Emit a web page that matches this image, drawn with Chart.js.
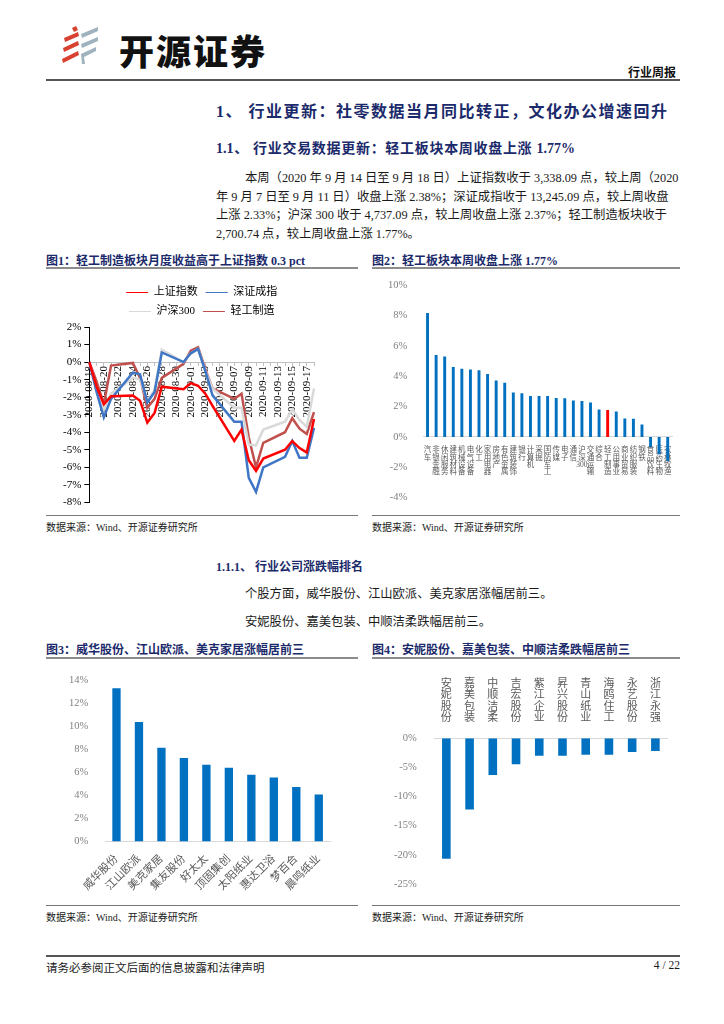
<!DOCTYPE html>
<html lang="zh-CN">
<head>
<meta charset="utf-8">
<script src="https://cdn.jsdelivr.net/npm/chart.js@4.4.0/dist/chart.umd.min.js"></script>
<style>
  body { margin: 0; width: 724px; height: 1024px; position: relative; background: #fff;
         font-family: "Liberation Serif", "Noto Sans CJK SC", serif; color: #1a1a1a; }
  .abs { position: absolute; white-space: nowrap; }
  .navy { color: #1b2a6b; font-weight: bold; }
  .just { text-align: justify; text-align-last: justify; }
  .rule { position: absolute; height: 0; }
  canvas { position: absolute; }
</style>
</head>
<body>

<!-- header -->
<svg class="abs" style="left:60px;top:26px" width="42" height="40" viewBox="0 0 42 40">
  <path d="M12 2 L16 0 L18 4 L14 6 Z" fill="#d8412f"/>
  <path d="M4 12 L18 6 L19 10 L5 16 Z" fill="#d8412f"/>
  <path d="M3 22 L18 15 L19 19 L4 26 Z" fill="#d8412f"/>
  <path d="M2 33 L18 25 L19 29 L3 37 Z" fill="#d8412f"/>
  <path d="M21 8 L38 1 L38 5 L22 12 Z" fill="#9fb3bf"/>
  <path d="M21 18 L38 11 L38 15 L22 22 Z" fill="#9fb3bf"/>
  <path d="M21 28 L36 21 L36 25 L24 31 L25 38 L22 38 Z" fill="#9fb3bf"/>
</svg>
<div class="abs" style="left:119px;top:24px;font:900 35px 'Noto Sans CJK SC';letter-spacing:2px;color:#111">开源证券</div>
<div class="abs" style="right:48px;top:63px;font:bold 12px 'Noto Sans CJK SC';color:#111">行业周报</div>
<div class="rule" style="left:46px;top:79px;width:634px;border-top:2px solid #555"></div>

<!-- headings and text -->
<div class="abs navy just" style="left:216px;top:98px;width:451px;font-size:16px">1、 行业更新：社零数据当月同比转正，文化办公增速回升</div>
<div class="abs navy just" style="left:216px;top:137px;width:359px;font-size:14px">1.1、 行业交易数据更新：轻工板块本周收盘上涨 1.77%</div>
<div class="abs just" style="left:245px;top:168px;width:421px;font-size:12.3px">本周（2020 年 9 月 14 日至 9 月 18 日）上证指数收于 3,338.09 点，较上周（2020</div>
<div class="abs just" style="left:216px;top:187px;width:450px;font-size:12.3px">年 9 月 7 日至 9 月 11 日）收盘上涨 2.38%；深证成指收于 13,245.09 点，较上周收盘</div>
<div class="abs just" style="left:216px;top:205px;width:450px;font-size:12.3px">上涨 2.33%；沪深 300 收于 4,737.09 点，较上周收盘上涨 2.37%；轻工制造板块收于</div>
<div class="abs" style="left:216px;top:224px;font-size:12.3px">2,700.74 点，较上周收盘上涨 1.77%。</div>

<div class="abs navy" style="left:46px;top:251px;font-size:12px">图1：轻工制造板块月度收益高于上证指数 0.3 pct</div>
<div class="abs navy" style="left:372px;top:251px;font-size:12px">图2：轻工板块本周收盘上涨 1.77%</div>
<div class="rule" style="left:46px;top:267px;width:312px;border-top:2px solid #8c8c8c"></div>
<div class="rule" style="left:372px;top:267px;width:308px;border-top:2px solid #8c8c8c"></div>

<canvas id="c1" width="312" height="242" style="left:46px;top:270px"></canvas>
<canvas id="c2" width="308" height="242" style="left:372px;top:270px"></canvas>

<div class="rule" style="left:46px;top:515px;width:312px;border-top:1.5px solid #777"></div>
<div class="rule" style="left:372px;top:515px;width:308px;border-top:1.5px solid #777"></div>
<div class="abs" style="left:46px;top:519px;font-size:10px">数据来源：Wind、开源证券研究所</div>
<div class="abs" style="left:372px;top:519px;font-size:10px">数据来源：Wind、开源证券研究所</div>

<div class="abs navy" style="left:216px;top:557px;font-size:12px">1.1.1、 行业公司涨跌幅排名</div>
<div class="abs" style="left:245px;top:584px;font-size:12.3px">个股方面，威华股份、江山欧派、美克家居涨幅居前三。</div>
<div class="abs" style="left:245px;top:612px;font-size:12.3px">安妮股份、嘉美包装、中顺洁柔跌幅居前三。</div>

<div class="abs navy" style="left:46px;top:640px;font-size:12px">图3：威华股份、江山欧派、美克家居涨幅居前三</div>
<div class="abs navy" style="left:372px;top:640px;font-size:12px">图4：安妮股份、嘉美包装、中顺洁柔跌幅居前三</div>
<div class="rule" style="left:46px;top:657px;width:312px;border-top:2px solid #8c8c8c"></div>
<div class="rule" style="left:372px;top:657px;width:308px;border-top:2px solid #8c8c8c"></div>

<canvas id="c3" width="312" height="244" style="left:46px;top:660px"></canvas>
<canvas id="c4" width="308" height="244" style="left:372px;top:660px"></canvas>

<div class="rule" style="left:46px;top:905px;width:312px;border-top:1.5px solid #777"></div>
<div class="rule" style="left:372px;top:905px;width:308px;border-top:1.5px solid #777"></div>
<div class="abs" style="left:46px;top:909px;font-size:10px">数据来源：Wind、开源证券研究所</div>
<div class="abs" style="left:372px;top:909px;font-size:10px">数据来源：Wind、开源证券研究所</div>

<!-- footer -->
<div class="rule" style="left:46px;top:955px;width:634px;border-top:2px solid #555"></div>
<div class="abs" style="left:46px;top:959px;font-size:11.5px">请务必参阅正文后面的信息披露和法律声明</div>
<div class="abs" style="right:44px;top:959px;font-size:11.5px">4 / 22</div>

<script>
// 图1：近一月累计涨跌幅（%），周末为空
const dates = ['2020-08-18', '2020-08-19', '2020-08-20', '2020-08-21', '2020-08-22', '2020-08-23',
  '2020-08-24', '2020-08-25', '2020-08-26', '2020-08-27', '2020-08-28', '2020-08-29', '2020-08-30',
  '2020-08-31', '2020-09-01', '2020-09-02', '2020-09-03', '2020-09-04', '2020-09-05', '2020-09-06',
  '2020-09-07', '2020-09-08', '2020-09-09', '2020-09-10', '2020-09-11', '2020-09-12', '2020-09-13',
  '2020-09-14', '2020-09-15', '2020-09-16', '2020-09-17', '2020-09-18'];
const shIndex = [0, -1.4, -2.4, -1.95, null, null, -1.9, -2.2, -3.45, -2.9, -1.4, null, null,
  -1.55, -1.2, -1.35, -1.8, -2.5, null, null, -4.5, -3.85, -5.6, -6.2, -5.5, null, null,
  -5.0, -4.5, -4.9, -5.15, -3.25];
const szIndex = [0, -1.7, -3.15, -2.1, null, null, -0.6, -0.7, -2.3, -1.7, 0.55, null, null,
  0.0, 0.5, 0.75, -0.5, -1.9, null, null, -3.4, -3.4, -6.6, -7.4, -6.0, null, null,
  -5.4, -4.5, -5.45, -5.45, -3.75];
const hs300 = [0, -1.5, -2.7, -1.8, null, null, -0.9, -1.0, -2.2, -1.6, 0.7, null, null,
  0.0, 0.5, 0.75, -0.5, -1.5, null, null, -2.6, -2.6, -4.7, -4.75, -3.85, null, null,
  -3.4, -2.7, -3.3, -3.7, -1.5];
const lightMfg = [0, -1.1, -2.4, -0.2, null, null, -0.05, -0.9, -2.6, -2.1, -0.9, null, null,
  -0.1, 0.65, 0.85, -0.4, -1.5, null, null, -2.1, -1.8, -4.3, -6.0, -4.6, null, null,
  -4.0, -3.2, -3.8, -4.1, -2.85];

// 图2：申万一级行业本周涨跌幅（%）
const industries = ['汽车', '非银金融', '休闲服务', '建筑材料', '机械设备', '电气设备', '化工', '家用电器',
  '房地产', '有色金属', '建筑装饰', '银行', '计算机', '采掘', '国防军工', '传媒', '电子', '通信', '沪深300',
  '交通运输', '综合', '轻工制造', '公用事业', '商业贸易', '纺织服装', '钢铁', '食品饮料', '医药生物', '农林牧渔'];
const industryChg = [8.15, 5.39, 5.3, 4.6, 4.48, 4.43, 4.39, 4.15, 3.71, 3.56, 2.92, 2.88, 2.7, 2.7, 2.7,
  2.57, 2.55, 2.4, 2.37, 2.26, 1.8, 1.77, 1.67, 1.21, 1.19, 0.81, -0.66, -1.14, -1.58];

// 图3 / 图4：个股本周涨跌幅（%）
const gainers = ['威华股份', '江山欧派', '美克家居', '集友股份', '好太太', '顶固集创', '太阳纸业', '惠达卫浴', '梦百合', '晨鸣纸业'];
const gainerChg = [13.28, 10.35, 8.12, 7.24, 6.66, 6.39, 5.78, 5.54, 4.72, 4.08];
const losers = ['安妮股份', '嘉美包装', '中顺洁柔', '吉宏股份', '紫江企业', '昇兴股份', '青山纸业', '海鸥住工', '永艺股份', '浙江永强'];
const loserChg = [-20.68, -12.24, -6.33, -4.48, -3.0, -3.0, -2.85, -2.85, -2.37, -2.2];

Chart.defaults.font.family = '"Liberation Serif", "Noto Sans CJK SC", serif';
Chart.defaults.animation = false;
Chart.defaults.responsive = false;
Chart.defaults.plugins.tooltip.enabled = false;

const pct = v => v + '%';
const stack = s => s.match(/\d+|./g); // 竖排标签

// 图1
new Chart(document.getElementById('c1'), {
  type: 'line',
  data: {
    labels: dates,
    datasets: [
      { label: '上证指数', data: shIndex, borderColor: '#ff0000' },
      { label: '深证成指', data: szIndex, borderColor: '#3f77c6' },
      { label: '沪深300', data: hs300, borderColor: '#d9d9d9' },
      { label: '轻工制造', data: lightMfg, borderColor: '#c0504d' },
    ],
  },
  options: {
    spanGaps: true,
    elements: { point: { radius: 0 }, line: { borderWidth: 2.5, tension: 0 } },
    layout: { padding: { left: 14, right: 44, top: 9, bottom: 8 } },
    plugins: {
      legend: {
        fullSize: false,
        labels: { usePointStyle: true, pointStyle: 'line', pointStyleWidth: 22, padding: 8,
                  color: '#000', font: { size: 11 } },
      },
    },
    scales: {
      x: {
        position: { y: 0 },
        grid: { drawOnChartArea: false, tickLength: 3, color: '#bfbfbf' },
        border: { color: '#bfbfbf' },
        ticks: { autoSkip: false, maxRotation: 90, minRotation: 90, padding: 1, color: '#000',
                 font: { size: 11 }, callback: (v, i) => (i % 2 === 0 ? dates[i] : '') },
      },
      y: {
        min: -8, max: 2,
        grid: { drawOnChartArea: false, tickLength: 5, color: '#000' },
        border: { color: '#000' },
        ticks: { stepSize: 1, color: '#000', font: { size: 11 }, callback: pct },
      },
    },
  },
});

// 图2
new Chart(document.getElementById('c2'), {
  type: 'bar',
  data: {
    labels: industries.map(stack),
    datasets: [{
      data: industryChg,
      backgroundColor: industries.map(n => (n === '轻工制造' ? '#ff0000' : '#0070c0')),
      barPercentage: 0.34, categoryPercentage: 1,
    }],
  },
  options: {
    layout: { padding: { left: 8, right: 8, top: 15, bottom: 8 } },
    plugins: { legend: { display: false } },
    scales: {
      x: {
        position: { y: 0 },
        grid: { display: false },
        border: { color: '#d9d9d9' },
        ticks: { autoSkip: false, maxRotation: 0, padding: 2, color: '#595959',
                 font: { size: 7.5, lineHeight: 0.95 } },
      },
      y: {
        min: -4, max: 10,
        grid: { display: false },
        border: { display: false },
        ticks: { stepSize: 2, padding: 8, color: '#808080', font: { size: 10.5 }, callback: pct },
      },
    },
  },
});

// 图3
new Chart(document.getElementById('c3'), {
  type: 'bar',
  data: {
    labels: gainers,
    datasets: [{ data: gainerChg, backgroundColor: '#0070c0', barPercentage: 0.37, categoryPercentage: 1 }],
  },
  options: {
    layout: { padding: { left: 14, right: 28, top: 20, bottom: 8 } },
    plugins: { legend: { display: false } },
    scales: {
      x: {
        grid: { display: false },
        border: { color: '#d9d9d9' },
        ticks: { autoSkip: false, maxRotation: 45, minRotation: 45, color: '#595959', font: { size: 11 } },
      },
      y: {
        min: 0, max: 14,
        grid: { display: false },
        border: { display: false },
        ticks: { stepSize: 2, padding: 9, color: '#808080', font: { size: 10.5 }, callback: pct },
      },
    },
  },
});

// 图4
new Chart(document.getElementById('c4'), {
  type: 'bar',
  data: {
    labels: losers.map(stack),
    datasets: [{ data: loserChg, backgroundColor: '#0070c0', barPercentage: 0.37, categoryPercentage: 1 }],
  },
  options: {
    layout: { padding: { left: 12, right: 13, top: 12, bottom: 20 } },
    plugins: { legend: { display: false } },
    scales: {
      x: {
        position: 'top',
        grid: { display: false },
        border: { color: '#d9d9d9' },
        ticks: { autoSkip: false, maxRotation: 0, padding: 6, color: '#595959',
                 font: { size: 11, lineHeight: 1.05 } },
      },
      y: {
        min: -25, max: 0,
        grid: { display: false },
        border: { display: false },
        ticks: { stepSize: 5, padding: 10, color: '#808080', font: { size: 10.5 }, callback: pct },
      },
    },
  },
});
</script>
</body>
</html>
